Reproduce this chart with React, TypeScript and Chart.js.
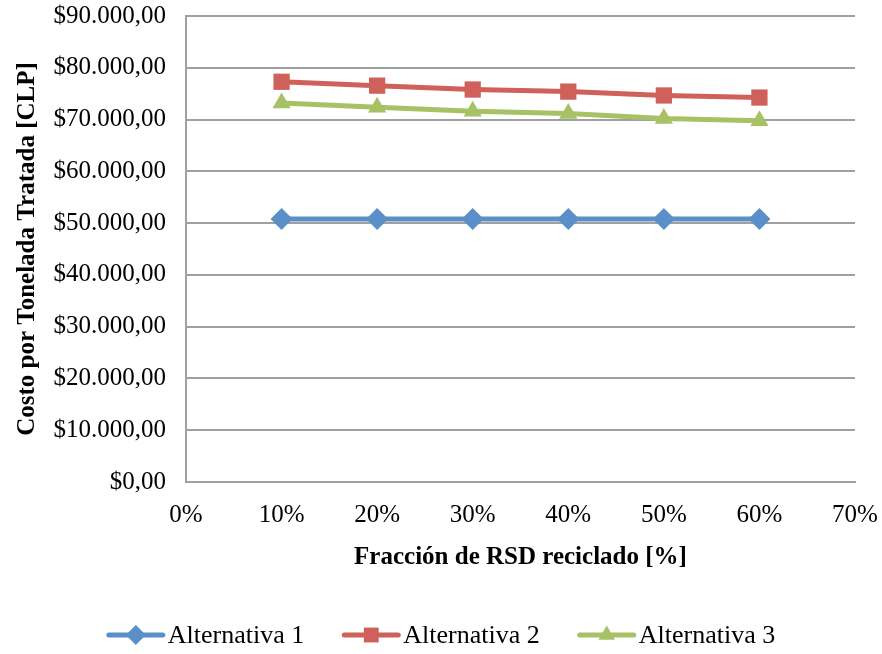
import React, { useEffect, useRef } from "react";
import { Chart, registerables } from "chart.js";

Chart.register(...registerables);

const fractions = [0.1, 0.2, 0.3, 0.4, 0.5, 0.6];
const alternativa1 = [50800, 50800, 50800, 50800, 50800, 50800];
const alternativa2 = [77300, 76550, 75800, 75400, 74650, 74250];
const alternativa3 = [73200, 72400, 71600, 71150, 70200, 69750];
const seriesLabels = ["Alternativa 1", "Alternativa 2", "Alternativa 3"];
const seriesColors = ["#5B8FC8", "#CF605A", "#A6C264"];
const pointStyles = ["rectRot", "rect", "triangle"];
const pointRadii = [11, 11.5, 10.5];

const FONT = '"Liberation Serif", "Times New Roman", serif';

function fmtMoney(v: number): string {
  const s = Math.round(v).toString().replace(/\B(?=(\d{3})+(?!\d))/g, ".");
  return "$" + s + ",00";
}

function drawMarker(ctx: CanvasRenderingContext2D, style: string, x: number, y: number, r: number) {
  ctx.beginPath();
  if (style === "rectRot") {
    ctx.moveTo(x, y - r);
    ctx.lineTo(x + r, y);
    ctx.lineTo(x, y + r);
    ctx.lineTo(x - r, y);
  } else if (style === "rect") {
    const s = r * Math.SQRT1_2;
    ctx.rect(x - s, y - s, 2 * s, 2 * s);
  } else {
    const h = r * 1.5;
    const w = r * Math.sqrt(3) / 2;
    ctx.moveTo(x, y - r);
    ctx.lineTo(x + w, y + h - r);
    ctx.lineTo(x - w, y + h - r);
  }
  ctx.closePath();
  ctx.fill();
}

const legendPlugin = {
  id: "customLegend",
  afterDraw(chart: any) {
    const ctx: CanvasRenderingContext2D = chart.ctx;
    ctx.save();
    ctx.font = "26px " + FONT;
    const lineLen = 58;
    const gap = 3;
    const itemGap = 38;
    const items = chart.data.datasets.map((ds: any, i: number) => ({
      label: ds.label,
      color: ds.borderColor,
      style: pointStyles[i],
      r: pointRadii[i] - 1,
      w: ctx.measureText(ds.label).width,
    }));
    let total = 0;
    items.forEach((it: any, i: number) => {
      total += lineLen + gap + it.w + (i > 0 ? itemGap : 0);
    });
    let x = (chart.width - total) / 2;
    const y = chart.height - 19;
    items.forEach((it: any) => {
      ctx.strokeStyle = it.color;
      ctx.fillStyle = it.color;
      ctx.lineWidth = 5;
      ctx.lineCap = "round";
      ctx.beginPath();
      ctx.moveTo(x + 2, y);
      ctx.lineTo(x + lineLen - 2, y);
      ctx.stroke();
      drawMarker(ctx, it.style, x + lineLen / 2, y, it.r);
      ctx.fillStyle = "#000";
      ctx.textBaseline = "middle";
      ctx.textAlign = "left";
      ctx.fillText(it.label, x + lineLen + gap, y + 1);
      x += lineLen + gap + it.w + itemGap;
    });
    ctx.restore();
  },
};

export default function App() {
  const ref = useRef<HTMLCanvasElement | null>(null);

  useEffect(() => {
    document.body.style.margin = "0";
    const canvas = ref.current;
    if (!canvas) return;
    const seriesValues = [alternativa1, alternativa2, alternativa3];
    const chart = new Chart(canvas, {
      type: "line",
      data: {
        datasets: seriesValues.map((vals, i) => ({
          label: seriesLabels[i],
          data: fractions.map((f, j) => ({ x: f, y: vals[j] })),
          borderColor: seriesColors[i],
          backgroundColor: seriesColors[i],
          borderWidth: 5,
          pointStyle: pointStyles[i] as any,
          pointRadius: pointRadii[i],
          pointHoverRadius: pointRadii[i],
          pointBorderWidth: 0,
          tension: 0,
        })),
      },
      options: {
        responsive: false,
        animation: false,
        layout: { padding: { left: 0, right: 0, top: 0, bottom: 81 } },
        plugins: {
          legend: { display: false },
          tooltip: { enabled: false },
        },
        scales: {
          x: {
            type: "linear",
            min: 0,
            max: 0.7,
            afterFit: (scale: any) => {
              scale.paddingRight = 27;
              scale.paddingLeft = 0;
              scale.height = 91;
            },
            ticks: {
              stepSize: 0.1,
              callback: (v: any) => Math.round(Number(v) * 100) + "%",
              font: { family: FONT, size: 25 },
              color: "#000",
              padding: 18,
              maxRotation: 0,
            },
            grid: { display: false, drawTicks: false },
            border: { display: true, color: "#A0A0A0", width: 2 },
            title: {
              display: true,
              text: "Fracción de RSD reciclado [%]",
              font: { family: FONT, size: 25, weight: "bold" },
              color: "#000",
              padding: { top: 0, bottom: 0 },
            },
          },
          y: {
            min: 0,
            max: 90000,
            afterFit: (scale: any) => {
              scale.paddingTop = 16;
              scale.width = 186;
            },
            ticks: {
              stepSize: 10000,
              callback: (v: any) => fmtMoney(Number(v)),
              font: { family: FONT, size: 25 },
              color: "#000",
              padding: 20,
            },
            grid: { color: "#A0A0A0", lineWidth: 2, drawTicks: false },
            border: { display: true, color: "#A0A0A0", width: 2 },
            title: {
              display: true,
              text: "Costo por Tonelada Tratada [CLP]",
              font: { family: FONT, size: 25, weight: "bold" },
              color: "#000",
              padding: { top: 13, bottom: 0 },
            },
          },
        },
      },
      plugins: [legendPlugin],
    });
    return () => chart.destroy();
  }, []);

  return (
    <div style={{ position: "absolute", left: 0, top: 0, width: 882, height: 654, background: "#fff" }}>
      <canvas ref={ref} width={882} height={654} style={{ display: "block" }} />
    </div>
  );
}
